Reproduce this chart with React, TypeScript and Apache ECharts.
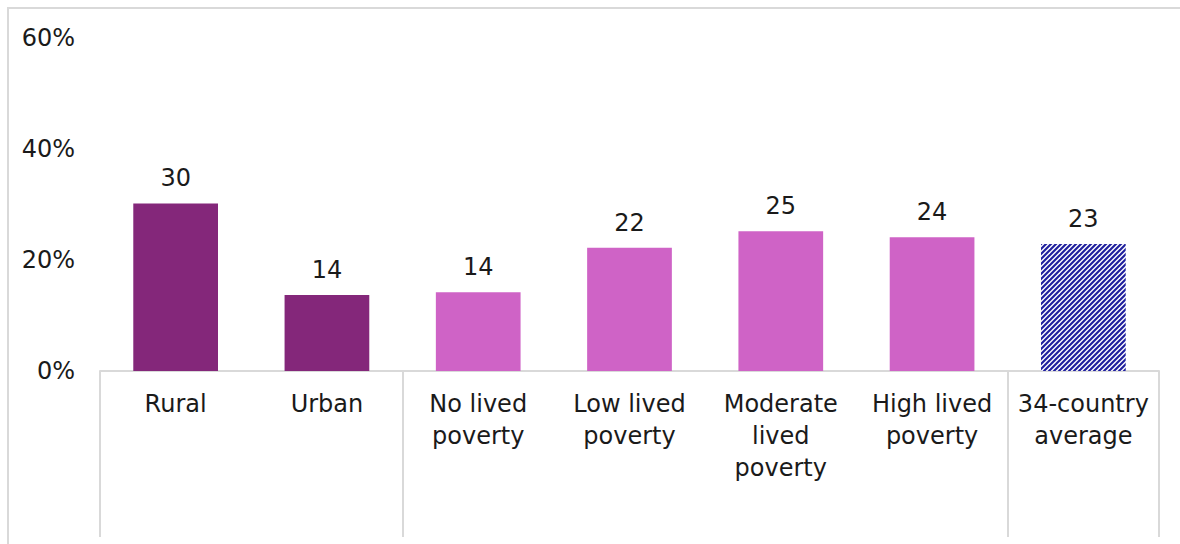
import React, { useEffect, useRef } from "react";
import * as echarts from "echarts";

const categories = [
  "Rural",
  "Urban",
  "No lived\npoverty",
  "Low lived\npoverty",
  "Moderate\nlived\npoverty",
  "High lived\npoverty",
  "34-country\naverage",
];
const values = [30.2, 13.7, 14.2, 22.2, 25.2, 24.1, 22.9];
const barKinds = ["dark", "dark", "light", "light", "light", "light", "hatch"];
const groupBoundaries = [0, 2, 6, 7];
const yTicks = [0, 20, 40, 60];

const DARK = "#84277a";
const LIGHT = "#cf63c6";
const HATCH = "#1f1f9e";
const GRAY = "#d9d9d9";
const TEXT = "#1a1a1a";
const FONT = "DejaVu Sans";

function makeHatch(): HTMLCanvasElement {
  const size = 10;
  const c = document.createElement("canvas");
  c.width = size;
  c.height = size;
  const ctx = c.getContext("2d")!;
  ctx.fillStyle = "#ffffff";
  ctx.fillRect(0, 0, size, size);
  ctx.strokeStyle = HATCH;
  ctx.lineWidth = 2.1;
  // "/" stripes: lines x + y = k
  for (let k = -10; k <= 30; k += 5) {
    ctx.beginPath();
    ctx.moveTo(k + 5, -5);
    ctx.lineTo(k - 15, 15);
    ctx.stroke();
  }
  return c;
}

export default function App() {
  const ref = useRef<HTMLDivElement>(null);
  useEffect(() => {
    if (!ref.current) return;
    const chart = echarts.init(ref.current, null, { renderer: "svg" });
    const hatch = makeHatch();
    const data = values.map((v, i) => {
      const kind = barKinds[i];
      if (kind === "hatch") {
        return {
          value: v,
          itemStyle: { color: { image: hatch, repeat: "repeat" } },
        };
      }
      return { value: v, itemStyle: { color: kind === "dark" ? DARK : LIGHT } };
    });
    chart.setOption({
      animation: false,
      textStyle: { fontFamily: FONT },
      graphic: [
        {
          type: "rect",
          shape: { x: 8, y: 8, width: 1300, height: 700 },
          style: { fill: "none", stroke: GRAY, lineWidth: 2 },
          silent: true,
        },
      ],
      grid: { left: 100, right: 21, top: 38, bottom: 173 },
      xAxis: {
        type: "category",
        data: categories,
        axisLine: { show: true, lineStyle: { color: GRAY, width: 2 } },
        axisTick: {
          show: true,
          length: 166,
          lineStyle: { color: GRAY, width: 2 },
          interval: (i: number) => groupBoundaries.includes(i),
        },
        axisLabel: {
          interval: 0,
          fontSize: 24,
          lineHeight: 32,
          margin: 17,
          color: TEXT,
          fontFamily: FONT,
        },
      },
      yAxis: {
        type: "value",
        min: yTicks[0],
        max: yTicks[yTicks.length - 1],
        interval: 20,
        axisLine: { show: false },
        axisTick: { show: false },
        splitLine: { show: false },
        axisLabel: {
          formatter: "{value}%",
          fontSize: 24,
          margin: 25,
          color: TEXT,
          fontFamily: FONT,
        },
      },
      series: [
        {
          type: "bar",
          data,
          barWidth: "56%",
          label: {
            show: true,
            position: "top",
            distance: 13,
            fontSize: 24,
            color: TEXT,
            fontFamily: FONT,
            formatter: (p: any) => String(Math.round(p.value)),
          },
        },
      ],
    });
    return () => chart.dispose();
  }, []);
  return (
    <div
      ref={ref}
      style={{ position: "fixed", left: 0, top: 0, width: 1180, height: 544, background: "#fff" }}
    />
  );
}
